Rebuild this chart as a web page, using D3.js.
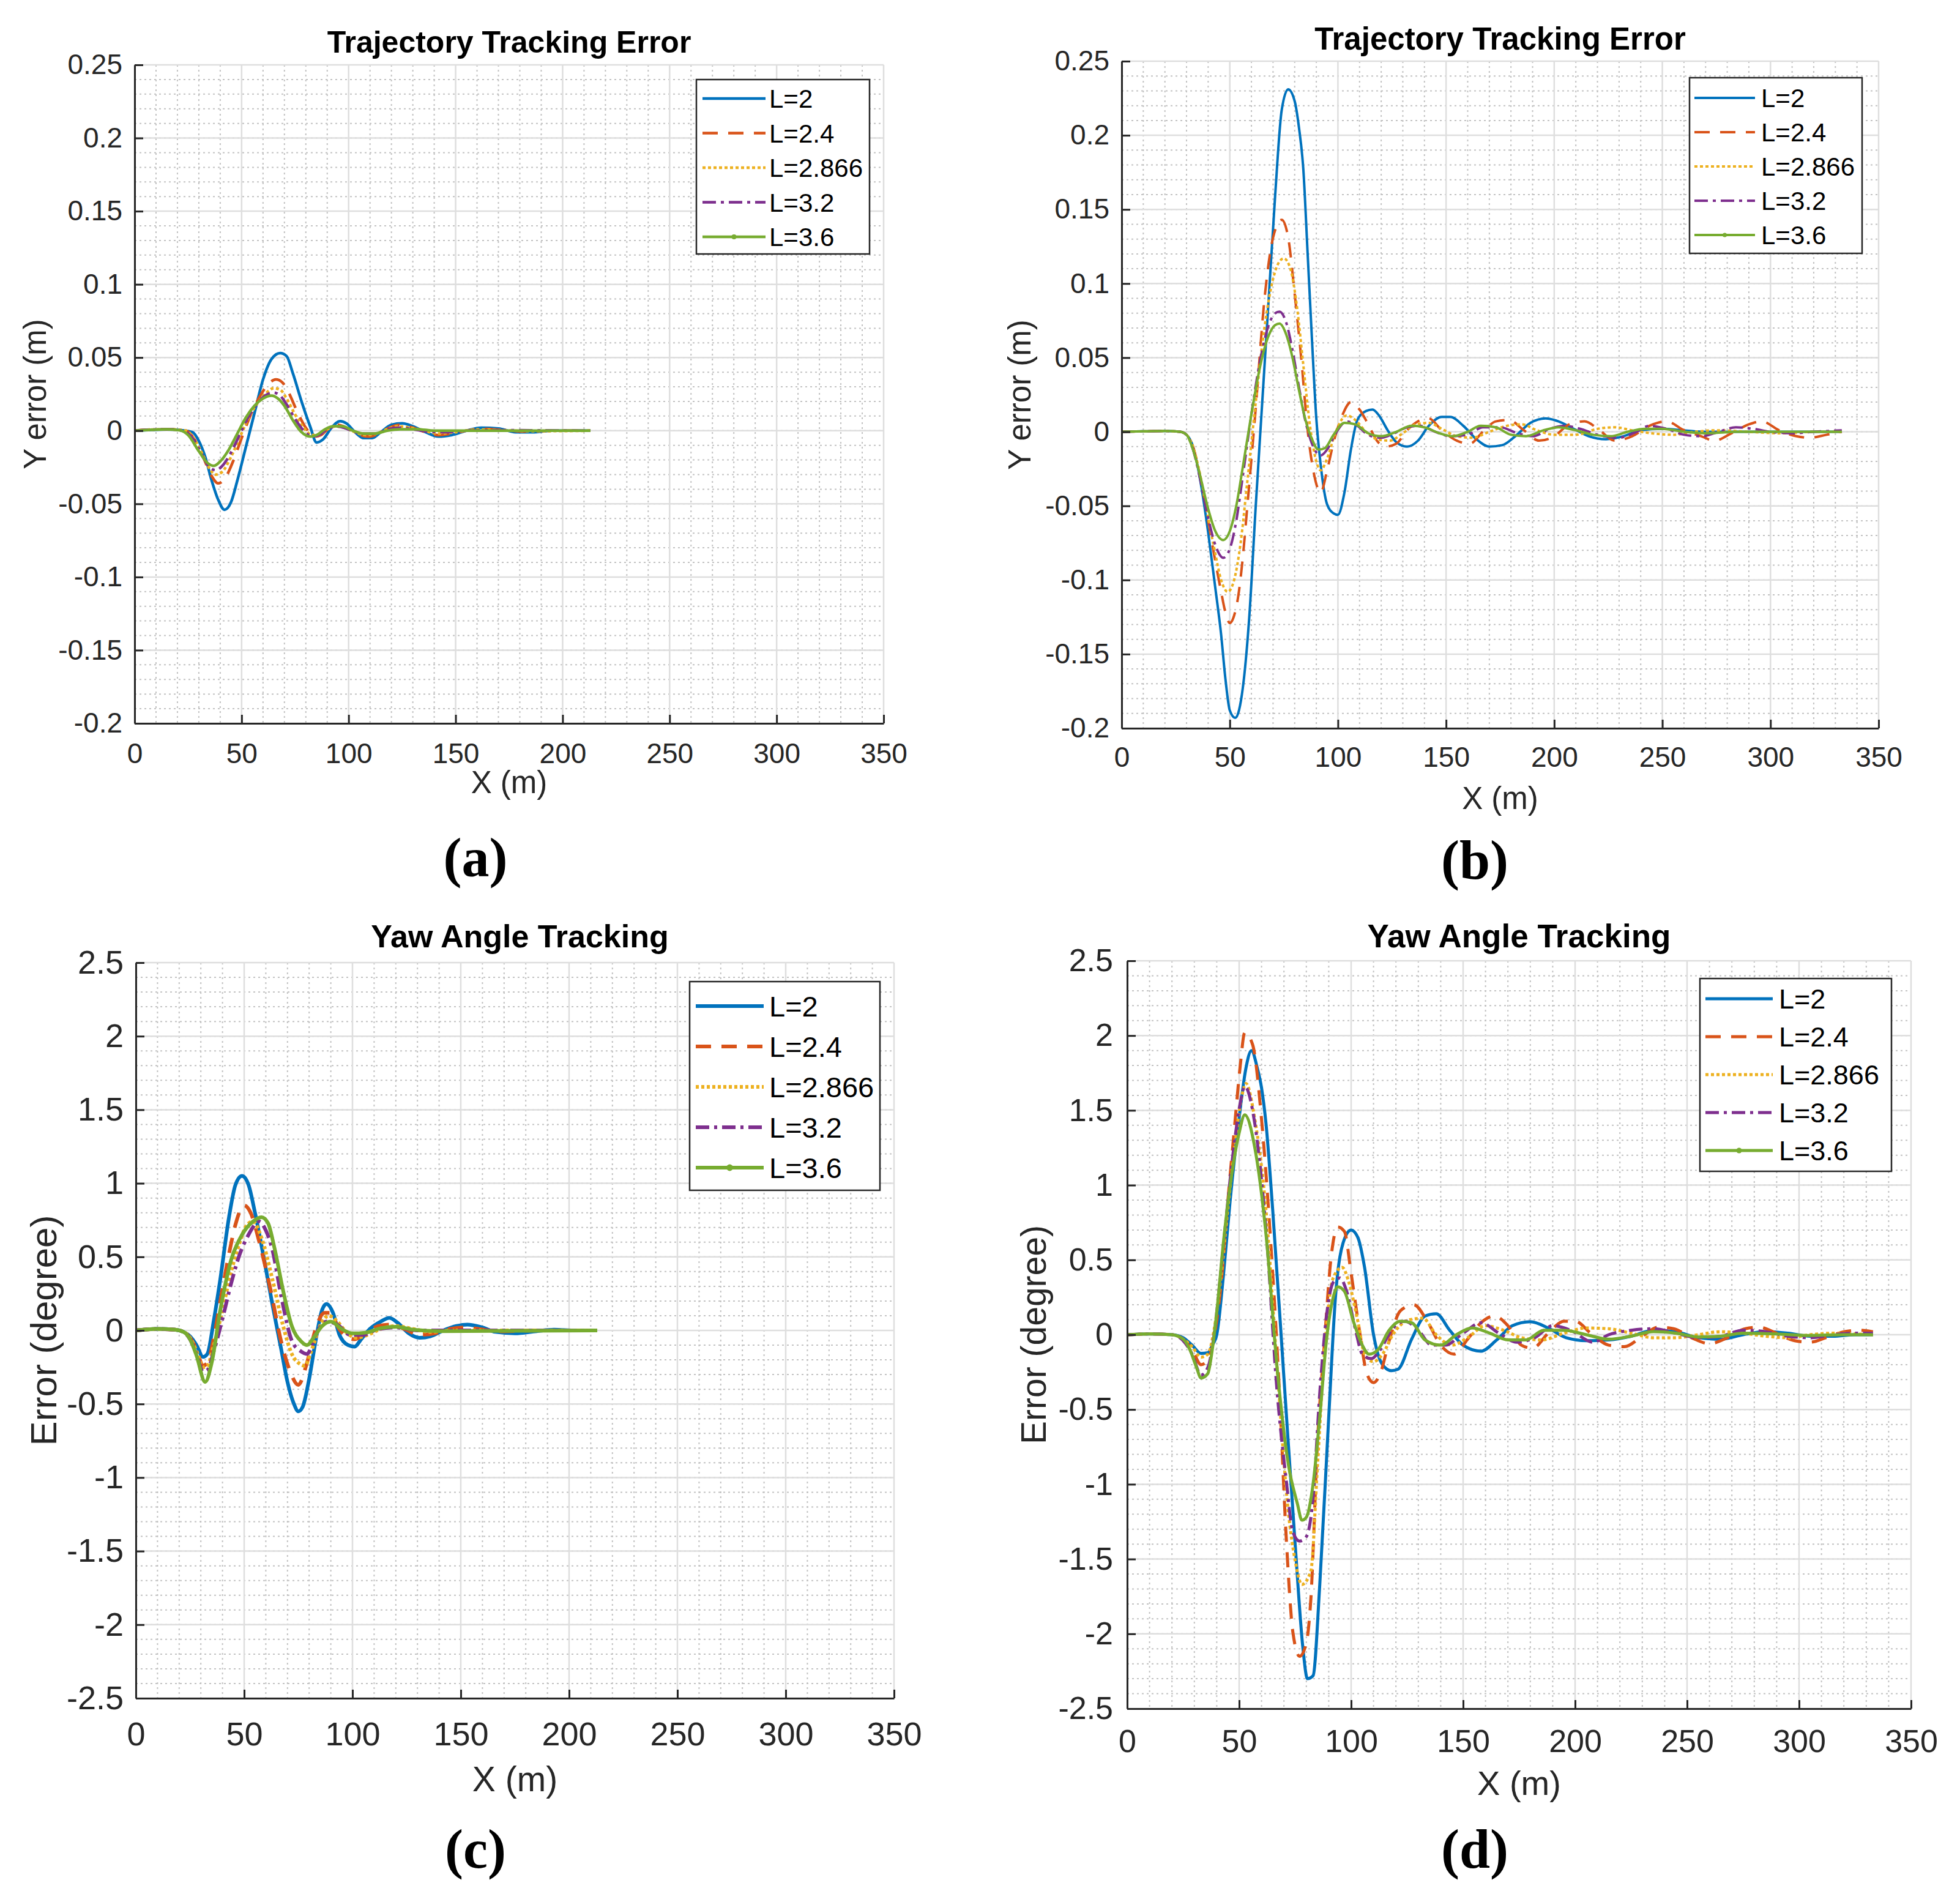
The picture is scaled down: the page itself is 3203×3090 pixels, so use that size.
<!DOCTYPE html>
<html><head><meta charset="utf-8">
<script src="https://cdn.jsdelivr.net/npm/d3@7"></script>
<style>body{margin:0;background:#fff} svg{display:block}</style>
</head><body>
<svg id="chart" width="3203" height="3090"></svg>
<script>
// ---------- shared labels / ticks ----------
const seriesNames = ["L=2", "L=2.4", "L=2.866", "L=3.2", "L=3.6"];
const seriesColors = ["#0072BD", "#D95319", "#EDB120", "#7E2F8E", "#77AC30"];
const xTicks = [0, 50, 100, 150, 200, 250, 300, 350];
const xMinorTicks = [10,20,30,40,60,70,80,90,110,120,130,140,160,170,180,190,210,220,230,240,260,270,280,290,310,320,330,340];
const yTicksTraj = [-0.2, -0.15, -0.1, -0.05, 0, 0.05, 0.1, 0.15, 0.2, 0.25];
const yTicksYaw = [-2.5, -2, -1.5, -1, -0.5, 0, 0.5, 1, 1.5, 2, 2.5];
const titleTraj = "Trajectory Tracking Error";
const titleYaw = "Yaw Angle Tracking";
const xLabel = "X (m)";
const yLabelTraj = "Y error (m)";
const yLabelYaw = "Error (degree)";
const panelTags = ["(a)", "(b)", "(c)", "(d)"];

// ---------- panel (a): Y error, short path ----------
const a_L2 = [[0,0],[8,0.0005],[15,0.0008],[22,0.0003],[27,-0.001],[30,-0.007],[33,-0.018],[36,-0.034],[39,-0.047],[42,-0.054],[45,-0.049],[48,-0.034],[52,-0.011],[56,0.012],[60,0.035],[64,0.049],[68,0.053],[71,0.051],[74,0.039],[78,0.02],[82,0.003],[85,-0.008],[88,-0.006],[92,0.002],[96,0.0065],[99,0.005],[103,-0.001],[107,-0.005],[111,-0.005],[115,-0.001],[120,0.004],[125,0.005],[130,0.003],[136,-0.001],[142,-0.004],[148,-0.003],[155,0],[162,0.002],[170,0.0015],[178,-0.001],[186,-0.001],[195,0],[213,0]];
const a_L24 = [[0,0],[10,0.0008],[18,0.0008],[24,0],[28,-0.006],[32,-0.018],[36,-0.031],[39,-0.036],[42,-0.033],[46,-0.021],[50,-0.005],[54,0.01],[58,0.022],[62,0.031],[66,0.035],[69,0.033],[72,0.026],[76,0.013],[80,0.002],[84,-0.004],[87,-0.003],[91,0.002],[95,0.004],[99,0.002],[104,-0.002],[109,-0.004],[114,-0.002],[119,0.002],[124,0.004],[130,0.002],[136,-0.001],[142,-0.003],[148,-0.002],[155,0],[163,0.0012],[172,0.0005],[182,-0.0005],[195,0],[213,0]];
const a_L2866 = [[0,0],[10,0.0008],[18,0.0008],[24,0],[28,-0.006],[32,-0.017],[35,-0.026],[38,-0.03],[41,-0.028],[45,-0.018],[49,-0.005],[53,0.008],[57,0.018],[61,0.025],[65,0.029],[68,0.028],[71,0.022],[75,0.011],[79,0.002],[83,-0.003],[86,-0.003],[90,0.001],[94,0.003],[98,0.002],[103,-0.001],[108,-0.003],[113,-0.002],[118,0.001],[123,0.003],[129,0.002],[135,0],[142,-0.002],[150,-0.001],[160,0.0008],[172,0.0003],[185,-0.0003],[213,0]];
const a_L32 = [[0,0],[10,0.0008],[18,0.0008],[24,-0.001],[28,-0.007],[32,-0.018],[35,-0.025],[38,-0.027],[41,-0.024],[45,-0.015],[49,-0.003],[53,0.009],[57,0.018],[61,0.024],[65,0.026],[68,0.024],[71,0.018],[75,0.008],[79,0],[83,-0.004],[86,-0.003],[90,0.001],[94,0.003],[98,0.002],[103,-0.001],[108,-0.002],[113,-0.002],[118,0.001],[124,0.002],[130,0.001],[137,-0.0005],[145,-0.001],[155,0],[170,0.0003],[213,0]];
const a_L36 = [[0,0],[8,0.0006],[15,0.001],[21,0.0003],[25,-0.003],[30,-0.014],[34,-0.022],[37,-0.024],[40,-0.021],[44,-0.013],[48,-0.002],[52,0.009],[56,0.017],[60,0.022],[64,0.024],[67,0.022],[70,0.017],[74,0.007],[78,-0.001],[82,-0.004],[85,-0.003],[89,0.001],[93,0.003],[97,0.003],[102,0],[107,-0.002],[112,-0.002],[118,0],[124,0.001],[132,0.001],[140,0],[155,0],[213,0]];

// ---------- panel (b): Y error, long path ----------
const b_L2 = [[0,0],[10,0.0003],[20,0.0005],[27,0],[30,-0.002],[33,-0.01],[36,-0.03],[40,-0.068],[43,-0.102],[46,-0.137],[48,-0.167],[50,-0.188],[52.5,-0.193],[56,-0.173],[59,-0.125],[62,-0.05],[65,0.02],[68,0.09],[71,0.16],[74,0.217],[77,0.231],[80,0.223],[82,0.205],[84,0.177],[86,0.12],[88,0.062],[90,0.009],[92,-0.022],[95,-0.049],[98,-0.055],[100,-0.056],[103,-0.041],[106,-0.012],[109,0.008],[113,0.014],[116,0.015],[119,0.011],[123,0.001],[127,-0.007],[132,-0.01],[137,-0.006],[142,0.004],[148,0.01],[152,0.01],[158,0.004],[164,-0.005],[170,-0.01],[176,-0.009],[182,-0.003],[189,0.006],[196,0.009],[202,0.007],[209,0.002],[216,-0.003],[224,-0.005],[232,-0.003],[240,0.001],[250,0.002],[260,0.001],[270,0],[285,0],[300,0],[333,0]];
const b_L24 = [[0,0],[10,0.0003],[20,0.0005],[27,0],[30,-0.002],[33,-0.01],[36,-0.028],[40,-0.06],[43,-0.085],[46,-0.108],[48,-0.122],[50,-0.129],[52,-0.124],[54,-0.11],[56,-0.085],[58,-0.052],[62,0.016],[66,0.089],[70,0.131],[74,0.143],[77,0.131],[80,0.093],[83,0.05],[86,0.001],[89,-0.029],[92,-0.041],[95,-0.026],[98,-0.007],[102,0.011],[106,0.02],[110,0.015],[114,0.005],[118,-0.006],[122,-0.01],[127,-0.008],[132,0.001],[137,0.007],[142,0.009],[148,0.001],[155,-0.006],[161,-0.008],[167,0],[173,0.007],[179,0.008],[186,0.001],[193,-0.006],[200,-0.003],[207,0.005],[214,0.007],[221,0.001],[228,-0.006],[236,-0.003],[244,0.004],[252,0.007],[260,0.001],[268,-0.003],[274,-0.006],[282,-0.001],[290,0.005],[296,0.007],[304,0.001],[312,-0.003],[318,-0.004],[326,-0.002],[333,0]];
const b_L2866 = [[0,0],[10,0.0003],[20,0.0005],[27,0],[30,-0.002],[33,-0.01],[36,-0.027],[40,-0.058],[43,-0.08],[46,-0.1],[49,-0.108],[52,-0.1],[55,-0.075],[58,-0.035],[62,0.02],[66,0.07],[70,0.103],[73,0.115],[75,0.117],[78,0.11],[81,0.085],[84,0.045],[87,0.005],[90,-0.02],[92,-0.026],[95,-0.018],[99,0],[104,0.011],[108,0.008],[113,0],[118,-0.005],[124,-0.006],[130,-0.001],[136,0.005],[142,0.006],[148,0.002],[155,-0.003],[162,-0.004],[170,0],[178,0.004],[185,0.005],[192,0.001],[200,-0.002],[210,-0.002],[220,0.002],[228,0.003],[236,0.001],[245,-0.001],[255,-0.002],[265,0],[275,0.001],[290,0],[305,-0.001],[320,0],[333,0]];
const b_L32 = [[0,0],[10,0.0003],[20,0.0005],[27,0],[30,-0.002],[33,-0.012],[36,-0.03],[40,-0.058],[43,-0.075],[47,-0.085],[50,-0.079],[53,-0.06],[56,-0.03],[60,0.012],[64,0.048],[68,0.072],[71,0.08],[73,0.081],[76,0.074],[79,0.055],[82,0.03],[85,0.007],[88,-0.008],[92,-0.016],[95,-0.012],[99,-0.001],[104,0.007],[109,0.004],[114,-0.002],[120,-0.004],[126,-0.001],[132,0.003],[138,0.004],[145,0],[152,-0.003],[160,-0.002],[167,0.003],[175,0.003],[183,-0.001],[190,-0.003],[198,0.002],[205,0.004],[212,0.002],[220,-0.002],[230,-0.004],[238,0],[244,0.004],[252,0.002],[260,-0.002],[268,-0.003],[276,0],[284,0.003],[292,0.002],[300,0],[310,-0.001],[320,0],[333,0.001]];
const b_L36 = [[0,0],[10,0.0003],[20,0.0005],[27,0],[30,-0.002],[33,-0.012],[36,-0.028],[40,-0.052],[43,-0.066],[47,-0.073],[50,-0.067],[53,-0.05],[56,-0.024],[60,0.012],[64,0.044],[68,0.065],[71,0.072],[73,0.073],[76,0.066],[79,0.05],[82,0.028],[85,0.008],[88,-0.005],[91,-0.012],[94,-0.011],[98,-0.002],[103,0.006],[108,0.005],[114,-0.001],[120,-0.003],[127,0],[134,0.004],[140,0.003],[147,-0.001],[153,-0.003],[160,0],[166,0.004],[173,0.003],[180,-0.002],[187,-0.003],[195,0.001],[202,0.003],[210,0.001],[218,-0.002],[226,-0.003],[234,0],[242,0.002],[250,0.002],[260,0],[270,-0.001],[285,0],[300,0],[315,0],[333,0]];

// ---------- panel (c): yaw error, short path ----------
const c_L2 = [[0,0],[10,0.01],[18,0.005],[22,-0.01],[25,-0.04],[28,-0.1],[31,-0.18],[33,-0.16],[36,0.07],[39,0.35],[43,0.77],[46,0.99],[49,1.05],[52,0.99],[55,0.8],[59,0.5],[63,0.18],[67,-0.12],[70,-0.35],[73,-0.5],[75,-0.55],[77,-0.52],[80,-0.33],[83,-0.07],[86,0.14],[88,0.18],[91,0.12],[94,-0.03],[98,-0.1],[101,-0.11],[104,-0.06],[108,0.01],[113,0.06],[117,0.085],[121,0.05],[126,-0.02],[131,-0.05],[136,-0.04],[142,0],[148,0.03],[153,0.04],[160,0.02],[166,-0.01],[175,-0.02],[185,-0.005],[193,0.005],[203,0],[213,0]];
const c_L24 = [[0,0],[10,0.01],[18,0.005],[22,-0.01],[25,-0.05],[28,-0.13],[31,-0.24],[33,-0.22],[36,-0.05],[39,0.2],[43,0.52],[46,0.72],[50,0.85],[53,0.8],[57,0.6],[62,0.29],[67,-0.07],[71,-0.27],[75,-0.37],[79,-0.22],[83,0.01],[87,0.12],[90,0.12],[93,0.03],[97,-0.04],[101,-0.06],[106,-0.02],[112,0.03],[118,0.04],[124,0.01],[131,-0.03],[138,-0.02],[145,0.01],[152,0.02],[160,0.006],[170,-0.006],[185,0],[213,0]];
const c_L2866 = [[0,0],[10,0.01],[18,0.005],[22,-0.01],[25,-0.05],[28,-0.14],[31,-0.25],[33,-0.24],[36,-0.1],[40,0.14],[44,0.4],[48,0.6],[51,0.71],[54,0.74],[58,0.63],[63,0.35],[68,0.03],[72,-0.16],[76,-0.23],[78,-0.24],[81,-0.14],[85,0.03],[89,0.1],[93,0.06],[97,-0.01],[102,-0.05],[107,-0.03],[113,0.01],[120,0.03],[128,0.01],[136,-0.01],[145,0],[213,0]];
const c_L32 = [[0,0],[10,0.01],[18,0.005],[22,-0.01],[25,-0.06],[28,-0.16],[31,-0.28],[33,-0.27],[36,-0.14],[40,0.08],[44,0.32],[48,0.52],[52,0.65],[55,0.72],[57,0.74],[60,0.68],[63,0.55],[67,0.24],[72,-0.07],[76,-0.14],[79,-0.16],[83,-0.03],[88,0.06],[93,0.04],[99,-0.03],[105,-0.03],[112,0.01],[120,0.02],[130,0],[213,0]];
const c_L36 = [[0,0],[10,0.01],[18,0.005],[22,-0.01],[25,-0.06],[28,-0.17],[32,-0.35],[35,-0.22],[39,0.14],[44,0.48],[49,0.65],[54,0.74],[58,0.77],[61,0.73],[64,0.56],[68,0.27],[72,0.03],[76,-0.07],[79,-0.1],[82,-0.05],[86,0.03],[90,0.06],[95,0.01],[100,-0.02],[106,-0.015],[113,0.015],[120,0.025],[128,0.005],[140,-0.005],[213,0]];

// ---------- panel (d): yaw error, long path ----------
const d_L2 = [[0,0],[10,0.005],[20,0],[25,-0.02],[29,-0.07],[33,-0.125],[36,-0.12],[38,-0.07],[40,0],[43,0.4],[46,0.9],[50,1.45],[53,1.78],[55.5,1.9],[58,1.79],[60,1.65],[62,1.41],[65,0.83],[70,-0.29],[75,-1.4],[78.5,-2.1],[80.5,-2.3],[83,-2.28],[86,-1.67],[90,-0.55],[93,0.25],[97,0.64],[100,0.7],[103,0.65],[106,0.45],[110,0],[114,-0.2],[118,-0.24],[121,-0.23],[127,-0.03],[133,0.125],[138,0.14],[144,0.03],[150,-0.07],[158,-0.11],[165,-0.035],[172,0.06],[180,0.087],[188,0.045],[196,-0.02],[205,-0.04],[215,-0.035],[225,-0.01],[235,0.03],[245,0.02],[255,-0.02],[265,-0.03],[275,0],[285,0.02],[295,0.01],[305,-0.01],[315,-0.01],[325,0],[333,0]];
const d_L24 = [[0,0],[10,0.005],[20,0],[25,-0.03],[29,-0.1],[33,-0.2],[36,-0.17],[39,0],[42,0.35],[45,0.9],[48,1.4],[50.5,1.8],[52.5,2.02],[56,1.94],[60,1.44],[64,0.64],[68,-0.39],[71,-1.35],[74,-1.99],[77,-2.15],[80,-2.06],[82,-1.77],[85,-0.71],[88,-0.07],[91,0.51],[94,0.72],[97,0.69],[100,0.41],[104,0],[107,-0.26],[110,-0.32],[113,-0.26],[117,-0.04],[122,0.16],[128,0.2],[134,0.09],[140,-0.07],[146,-0.13],[152,-0.03],[158,0.08],[164,0.125],[170,0.06],[176,-0.07],[181,-0.09],[188,0.01],[195,0.09],[200,0.09],[207,0.01],[215,-0.07],[222,-0.08],[230,-0.01],[237,0.05],[244,0.04],[252,-0.02],[260,-0.06],[268,-0.02],[276,0.04],[282,0.05],[290,0.01],[298,-0.04],[305,-0.05],[312,-0.02],[320,0.02],[327,0.03],[333,0.02]];
const d_L2866 = [[0,0],[10,0.005],[20,0],[25,-0.03],[29,-0.08],[33,-0.15],[36,-0.13],[39,0.05],[42,0.4],[45,0.85],[48,1.25],[51,1.58],[53,1.68],[57,1.44],[62,0.83],[67,-0.23],[72,-1.19],[75,-1.51],[78,-1.67],[82,-1.58],[85,-0.87],[88,-0.13],[92,0.38],[96,0.45],[99,0.35],[103,0.09],[106,-0.13],[110,-0.18],[114,-0.13],[119,0.01],[126,0.1],[132,0.11],[138,0],[145,-0.07],[152,-0.02],[160,0.06],[168,0.03],[176,-0.02],[185,-0.035],[195,0.01],[205,0.045],[215,0.04],[225,0.01],[235,-0.02],[245,-0.02],[255,0],[265,0.02],[275,0.01],[285,-0.01],[295,-0.02],[305,0],[315,0.01],[325,0.005],[333,0]];
const d_L32 = [[0,0],[10,0.005],[20,0],[25,-0.04],[29,-0.13],[33,-0.27],[36,-0.22],[39,0.02],[42,0.45],[45,0.9],[48,1.3],[50.5,1.55],[52.5,1.66],[57,1.41],[62,0.7],[67,-0.39],[71,-0.97],[74,-1.32],[77,-1.38],[80,-1.35],[83,-1.09],[86,-0.39],[89,0.125],[92,0.35],[95,0.38],[98,0.29],[102,0.03],[105,-0.13],[109,-0.16],[113,-0.1],[118,0.03],[124,0.09],[130,0.03],[136,-0.07],[142,-0.07],[150,0.01],[158,0.08],[166,0.01],[174,-0.05],[182,-0.02],[190,0.06],[198,0.03],[208,-0.05],[215,0],[225,0.03],[235,0.04],[245,0.01],[255,-0.02],[265,-0.01],[275,0.03],[285,0.02],[295,-0.01],[305,-0.02],[315,0],[325,0.01],[333,0.01]];
const d_L36 = [[0,0],[10,0.005],[20,0],[25,-0.03],[28,-0.1],[31,-0.22],[33,-0.29],[36,-0.26],[38,-0.1],[40,0.15],[43,0.62],[46,1.0],[50,1.35],[52.5,1.47],[57,1.25],[62,0.67],[67,-0.23],[72,-0.87],[76,-1.13],[78,-1.24],[80,-1.22],[83,-1.0],[86,-0.55],[89,-0.035],[92,0.25],[94,0.32],[97,0.29],[101,0.09],[105,-0.07],[108,-0.13],[112,-0.1],[117,0.03],[122,0.09],[127,0.08],[133,-0.035],[140,-0.07],[147,0],[154,0.045],[162,0.01],[170,-0.035],[178,-0.035],[186,0.03],[195,0.03],[205,0],[215,-0.03],[225,-0.01],[235,0.02],[245,0.01],[255,-0.015],[265,-0.01],[275,0.01],[290,0.005],[305,-0.005],[320,0],[333,0]];

// ---------- drawing ----------
const svg = d3.select("#chart");
svg.append("rect").attr("width",3203).attr("height",3090).attr("fill","#fff");
const FONT = "'Liberation Sans', Arial, Helvetica, sans-serif";

function dashFor(i){
  if (i === 1) return "25,17";
  if (i === 2) return "5,4";
  if (i === 3) return "22,8,5,8";
  return null;
}

function drawPanel(p){
  const x = d3.scaleLinear().domain([0,350]).range([p.left,p.right]);
  const y = d3.scaleLinear().domain([p.yTicks[0], p.yTicks[p.yTicks.length-1]]).range([p.bottom,p.top]);
  const g = svg.append("g");

  // minor grid
  g.append("g").selectAll("line").data(xMinorTicks).join("line")
    .attr("x1",d=>x(d)).attr("x2",d=>x(d)).attr("y1",p.top).attr("y2",p.bottom)
    .attr("stroke","#c3c3c3").attr("stroke-width",2).attr("stroke-dasharray","3,5");
  g.append("g").selectAll("line").data(p.yMinor).join("line")
    .attr("y1",d=>y(d)).attr("y2",d=>y(d)).attr("x1",p.left).attr("x2",p.right)
    .attr("stroke","#c3c3c3").attr("stroke-width",2).attr("stroke-dasharray","3,5");
  // major grid
  g.append("g").selectAll("line").data(xTicks).join("line")
    .attr("x1",d=>x(d)).attr("x2",d=>x(d)).attr("y1",p.top).attr("y2",p.bottom)
    .attr("stroke","#dedede").attr("stroke-width",2.5);
  g.append("g").selectAll("line").data(p.yTicks).join("line")
    .attr("y1",d=>y(d)).attr("y2",d=>y(d)).attr("x1",p.left).attr("x2",p.right)
    .attr("stroke","#dedede").attr("stroke-width",2.5);

  // curves
  const line = d3.line().x(d=>x(d[0])).y(d=>y(d[1])).curve(d3.curveMonotoneX);
  p.series.forEach((s,i)=>{
    g.append("path").attr("d",line(s)).attr("fill","none")
      .attr("stroke",seriesColors[i]).attr("stroke-width",p.lw)
      .attr("stroke-dasharray",dashFor(i)).attr("stroke-linejoin","round");
  });

  // axes
  const xAxis = d3.axisBottom(x).tickValues(xTicks).tickSizeInner(-14).tickSizeOuter(0)
    .tickPadding(p.xPad).tickFormat(d=>String(d));
  const yAxis = d3.axisLeft(y).tickValues(p.yTicks).tickSizeInner(-14).tickSizeOuter(0)
    .tickPadding(p.yPad).tickFormat(d=>String(d));
  [ [g.append("g").attr("transform",`translate(0,${p.bottom})`).call(xAxis)],
    [g.append("g").attr("transform",`translate(${p.left},0)`).call(yAxis)] ].forEach(([ax])=>{
      ax.select(".domain").attr("stroke","#262626").attr("stroke-width",3);
      ax.selectAll(".tick line").attr("stroke","#262626").attr("stroke-width",3);
      ax.selectAll("text").attr("fill","#262626").attr("font-size",p.tickFont).attr("font-family",FONT);
  });

  // titles & labels
  g.append("text").attr("x",(p.left+p.right)/2 + (p.titleDx||0)).attr("y",p.titleY).attr("text-anchor","middle")
    .attr("font-family",FONT).attr("font-weight","bold").attr("font-size",p.titleFont).attr("fill","#000").text(p.title);
  g.append("text").attr("x",(p.left+p.right)/2).attr("y",p.xLabelY).attr("text-anchor","middle")
    .attr("font-family",FONT).attr("font-size",p.labelFont).attr("fill","#262626").text(xLabel);
  g.append("text").attr("transform",`translate(${p.yLabelX},${(p.top+p.bottom)/2}) rotate(-90)`)
    .attr("text-anchor","middle").attr("font-family",FONT).attr("font-size",p.yLabelFont||p.labelFont).attr("fill","#262626").text(p.yLabel);
  g.append("text").attr("x",p.tagX).attr("y",p.tagY).attr("text-anchor","middle")
    .attr("font-family","'Liberation Serif','Times New Roman',serif").attr("font-weight","bold")
    .attr("font-size",90).attr("fill","#000").text(p.tag);

  // legend
  const L = p.legend;
  const lg = g.append("g");
  lg.append("rect").attr("x",L.x0).attr("y",L.y0).attr("width",L.x1-L.x0).attr("height",L.y1-L.y0)
    .attr("fill","#fff").attr("stroke","#262626").attr("stroke-width",2.5);
  seriesNames.forEach((name,i)=>{
    const yy = L.firstY + i*L.step;
    lg.append("line").attr("x1",L.lx0).attr("x2",L.lx1).attr("y1",yy).attr("y2",yy)
      .attr("stroke",seriesColors[i]).attr("stroke-width",p.lw).attr("stroke-dasharray",dashFor(i));
    if (i === 4) lg.append("circle").attr("cx",(L.lx0+L.lx1)/2).attr("cy",yy).attr("r",p.lw*0.9).attr("fill",seriesColors[i]);
    lg.append("text").attr("x",L.tx).attr("y",yy + L.font*0.36).attr("font-family",FONT)
      .attr("font-size",L.font).attr("fill","#000").text(name);
  });
}

const yMinorTraj = d3.range(-20, 26, 1).map(v=>v/100);
const yMinorYaw = d3.range(-25, 26, 1).map(v=>v/10);

drawPanel({left:220,right:1444,top:106,bottom:1182,yTicks:yTicksTraj,yMinor:yMinorTraj,
  series:[a_L2,a_L24,a_L2866,a_L32,a_L36],lw:4.5,tickFont:46,xPad:65-0.71*46,yPad:20,
  title:titleTraj,titleY:86,titleFont:50,xLabelY:1296,labelFont:51,yLabel:yLabelTraj,yLabelX:75,
  tag:panelTags[0],tagX:777,tagY:1432,
  legend:{x0:1138,x1:1421,y0:130,y1:415,firstY:161,step:56.5,lx0:1148,lx1:1251,tx:1257,font:42}});
drawPanel({left:1833,right:3070,top:100,bottom:1190,yTicks:yTicksTraj,yMinor:yMinorTraj,
  series:[b_L2,b_L24,b_L2866,b_L32,b_L36],lw:4,tickFont:46,xPad:63-0.71*46,yPad:20,
  title:titleTraj,titleY:81,titleFont:51,xLabelY:1322,labelFont:51,yLabel:yLabelTraj,yLabelX:1684,
  tag:panelTags[1],tagX:2410,tagY:1436,
  legend:{x0:2761,x1:3043,y0:127,y1:414,firstY:160,step:56,lx0:2769,lx1:2868,tx:2878,font:42}});
drawPanel({left:222,right:1461,top:1573,bottom:2775,yTicks:yTicksYaw,yMinor:yMinorYaw,
  series:[c_L2,c_L24,c_L2866,c_L32,c_L36],lw:6,tickFont:54,xPad:77-0.71*54,yPad:20,
  title:titleYaw,titleY:1548,titleFont:52,titleDx:8,xLabelY:2927,labelFont:57,yLabelFont:60,yLabel:yLabelYaw,yLabelX:92,
  tag:panelTags[2],tagX:777,tagY:3052,
  legend:{x0:1127,x1:1438,y0:1604,y1:1945,firstY:1644,step:66,lx0:1137,lx1:1248,tx:1257,font:47}});
drawPanel({left:1842,right:3123,top:1570,bottom:2792,yTicks:yTicksYaw,yMinor:yMinorYaw,
  series:[d_L2,d_L24,d_L2866,d_L32,d_L36],lw:5,tickFont:52,xPad:71-0.71*52,yPad:23,
  title:titleYaw,titleY:1548,titleFont:53,xLabelY:2933,labelFont:56,yLabelFont:57,yLabel:yLabelYaw,yLabelX:1709,
  tag:panelTags[3],tagX:2410,tagY:3052,
  legend:{x0:2778,x1:3091,y0:1599,y1:1914,firstY:1632,step:62,lx0:2787,lx1:2897,tx:2907,font:45}});
</script>
</body></html>
